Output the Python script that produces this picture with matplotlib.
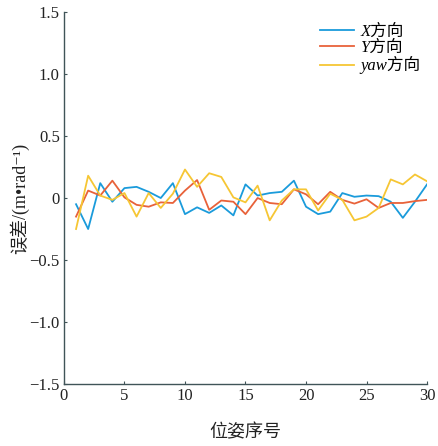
import matplotlib
matplotlib.use("Agg")
import matplotlib.pyplot as plt
from matplotlib.ticker import FuncFormatter

# pose index and error in each direction
pose = list(range(1, 31))
err_x = [-0.05, -0.25, 0.12, -0.03, 0.08, 0.09, 0.05, 0.00, 0.12, -0.13,
         -0.075, -0.12, -0.06, -0.14, 0.11, 0.02, 0.04, 0.05, 0.14, -0.07,
         -0.13, -0.11, 0.04, 0.01, 0.02, 0.015, -0.03, -0.16, -0.03, 0.11]
err_y = [-0.15, 0.06, 0.02, 0.14, 0.005, -0.055, -0.07, -0.035, -0.04, 0.06,
         0.145, -0.095, -0.02, -0.03, -0.13, 0.00, -0.04, -0.05, 0.07, 0.03,
         -0.05, 0.05, -0.015, -0.045, -0.01, -0.08, -0.04, -0.04, -0.025, -0.015]
err_yaw = [-0.25, 0.18, 0.02, -0.015, 0.04, -0.15, 0.04, -0.08, 0.035, 0.23,
           0.09, 0.20, 0.17, 0.005, -0.035, 0.10, -0.18, -0.02, 0.07, 0.07,
           -0.10, 0.035, -0.015, -0.18, -0.15, -0.08, 0.15, 0.11, 0.19, 0.135]
labels = ["X方向", "Y方向", "yaw方向"]
colors = ["#1A9BDB", "#E8623A", "#F6C634"]

FONTS = ["Liberation Serif", "Noto Sans CJK SC", "DejaVu Serif"]
plt.rcParams["font.family"] = FONTS
plt.rcParams["axes.unicode_minus"] = True
AXIS_COLOR = "#405458"

fig = plt.figure(figsize=(4.38, 4.46), dpi=100)
ax = fig.add_axes([0.146, 0.139, 0.829, 0.834])

for values, label, color in zip([err_x, err_y, err_yaw], labels, colors):
    ax.plot(pose, values, color=color, linewidth=1.3, label=label)

ax.set_xlim(0, 30)
ax.set_ylim(-1.5, 1.5)
ax.set_xticks([0, 5, 10, 15, 20, 25, 30])
ax.set_yticks([-1.5, -1.0, -0.5, 0, 0.5, 1.0, 1.5])
ax.yaxis.set_major_formatter(FuncFormatter(
    lambda v, _: "0" if abs(v) < 1e-9 else f"{v:.1f}".replace("-", "\u2212")))
ax.tick_params(direction="in", labelsize=12, length=2.5, width=0.8,
               color=AXIS_COLOR, labelcolor="#222222", pad=3)
ax.spines["top"].set_visible(False)
ax.spines["right"].set_visible(False)
for side in ("left", "bottom"):
    ax.spines[side].set_color(AXIS_COLOR)
    ax.spines[side].set_linewidth(1.0)

ax.set_xlabel("位姿序号", fontsize=13, labelpad=14, color="#222222")
ax.set_ylabel("误差/(m\u2022rad\u207b\u00b9)", fontsize=13, labelpad=0, color="#222222")

legend = ax.legend(loc="upper right", frameon=False, fontsize=12, handlelength=2.0,
                   labelspacing=0.0, borderaxespad=0.0, handletextpad=0.4,
                   bbox_to_anchor=(1.0, 0.985))
for text in legend.get_texts():
    text.set_fontstyle("italic")

fig.savefig("out.png", dpi=100)
